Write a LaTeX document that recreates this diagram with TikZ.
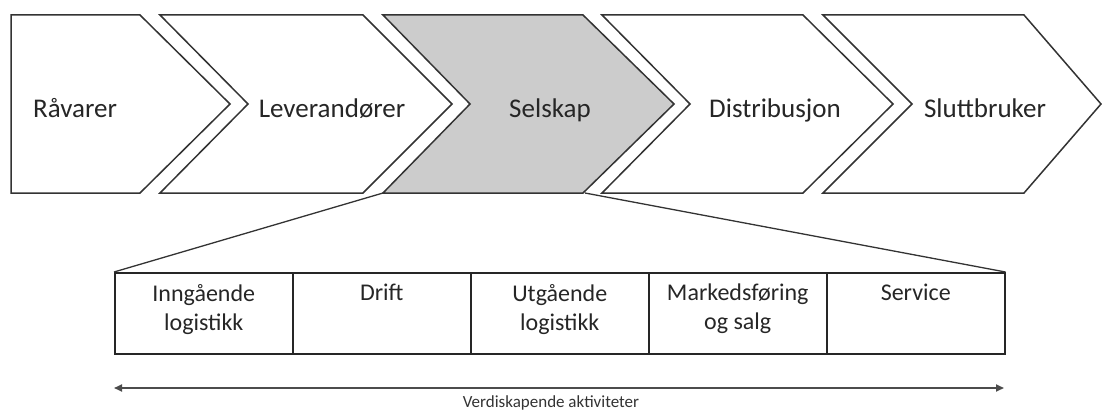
\documentclass[tikz,border=0pt]{standalone}
\usepackage{fontspec}
\setmainfont{Carlito}
\usetikzlibrary{arrows.meta}
\begin{document}
\begin{tikzpicture}[x=1pt,y=-1pt,
  chev/.style={draw=black!80,line width=1.5pt,line join=miter,fill=white},
  chevtext/.style={font=\fontsize{27}{30}\selectfont,text=black!85,inner sep=0pt,anchor=base},
  actbox/.style={draw=black!85,line width=1.5pt,minimum width=178pt,minimum height=81pt,inner sep=0pt,anchor=north west},
  acttext/.style={font=\fontsize{24}{29}\selectfont,text=black!85,align=center,inner sep=0pt,anchor=north},
  zoomline/.style={draw=black!80,line width=1.3pt}]
\useasboundingbox (0,0) rectangle (1102,412);

% value chain
\draw[chev] (11,15) -- (140,15) -- (230,104) -- (140,193) -- (11,193) -- cycle;
\draw[chev] (160,15) -- (363,15) -- (452,104) -- (363,193) -- (160,193) -- (248,104) -- cycle;
\draw[chev,fill=black!20] (383,15) -- (583,15) -- (674,104) -- (583,193) -- (383,193) -- (470,104) -- cycle;
\draw[chev] (602,15) -- (803,15) -- (893,104) -- (803,193) -- (602,193) -- (690,104) -- cycle;
\draw[chev] (823,15) -- (1024,15) -- (1101,104) -- (1024,193) -- (823,193) -- (912,104) -- cycle;

\node[chevtext] (ravarer) at (75,117) {Råvarer};
\node[chevtext] (leverandorer) at (332,117) {Leverandører};
\node[chevtext] (selskap) at (550,117) {Selskap};
\node[chevtext] (distribusjon) at (775,117) {Distribusjon};
\node[chevtext] (sluttbruker) at (985,117) {Sluttbruker};

\coordinate (selskapBL) at (383,193);
\coordinate (selskapBR) at (585,193);

% value-creating activities
\node[actbox] (b1) at (114,272) {};
\node[actbox] (b2) at (292,272) {};
\node[actbox] (b3) at (470,272) {};
\node[actbox] (b4) at (648,272) {};
\node[actbox] (b5) at (826,272) {};

\node[acttext] (t1) at ([yshift=-12pt]b1.north) {Inngående\\logistikk};
\node[acttext] (t2) at ([yshift=-12pt]b2.north) {Drift};
\node[acttext] (t3) at ([yshift=-12pt]b3.north) {Utgående\\logistikk};
\node[acttext] (t4) at ([yshift=-12pt]b4.north) {Markedsføring\\og salg};
\node[acttext] (t5) at ([yshift=-12pt]b5.north) {Service};

\draw[zoomline] (selskapBL) -- (b1.north west);
\draw[zoomline] (selskapBR) -- (b5.north east);

% range arrow
\coordinate (arrL) at (114,388);
\coordinate (arrR) at (1004,388);
\draw[line width=1.8pt,draw=black!70,{Triangle[length=8pt,width=7pt]}-{Triangle[length=8pt,width=7pt]}] (arrL) -- (arrR);
\node[font=\fontsize{17}{19}\selectfont,text=black!80,inner sep=0pt,anchor=base] (range) at (551,407) {Verdiskapende aktiviteter};
\end{tikzpicture}
\end{document}
